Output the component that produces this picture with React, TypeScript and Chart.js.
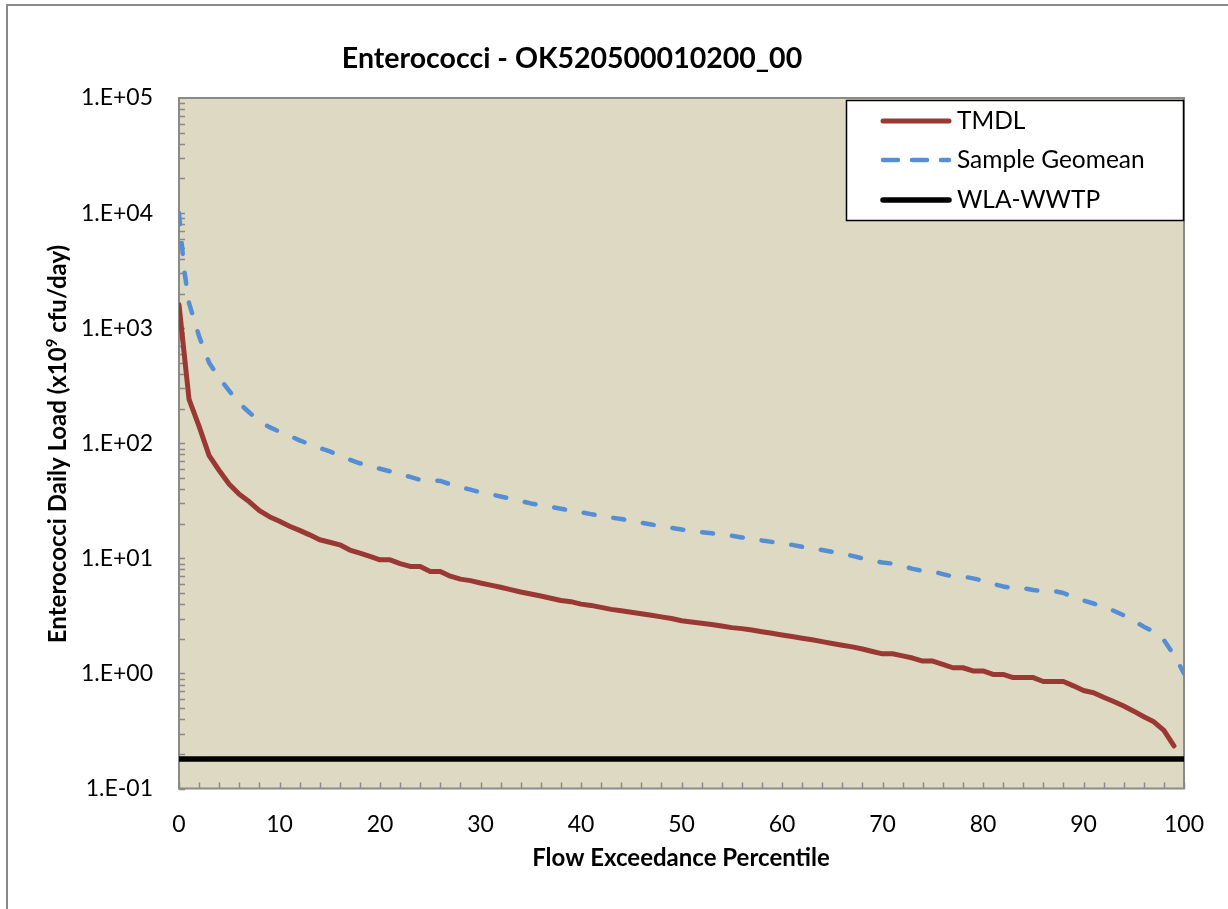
import React, { useEffect, useRef } from 'react';
import { Chart, registerables } from 'chart.js';

Chart.register(...registerables);

const FONT = 'Lato, "Open Sans", sans-serif';

const chartTitle = 'Enterococci - OK520500010200_00';
const xAxisTitle = 'Flow Exceedance Percentile';

// TMDL load duration curve (x10^9 cfu/day) by flow exceedance percentile
const tmdlPercentiles = [
  0, 1, 2, 3, 4, 5, 6, 7, 8, 9, 10, 11, 12, 13, 14, 15, 16, 17, 18, 19,
  20, 21, 22, 23, 24, 25, 26, 27, 28, 29, 30, 31, 32, 33, 34, 35, 36, 37, 38, 39,
  40, 41, 42, 43, 44, 45, 46, 47, 48, 49, 50, 51, 52, 53, 54, 55, 56, 57, 58, 59,
  60, 61, 62, 63, 64, 65, 66, 67, 68, 69, 70, 71, 72, 73, 74, 75, 76, 77, 78, 79,
  80, 81, 82, 83, 84, 85, 86, 87, 88, 89, 90, 91, 92, 93, 94, 95, 96, 97, 98, 99,
];
const tmdlLoads = [
  1600, 240, 140, 78, 58, 44, 36, 31, 26, 23, 21, 19, 17.5, 16, 14.5, 13.8, 13.1, 11.8, 11.1, 10.4,
  9.7, 9.7, 9.0, 8.5, 8.5, 7.7, 7.7, 7.0, 6.6, 6.4, 6.1, 5.85, 5.6, 5.35, 5.1, 4.9, 4.7, 4.5, 4.3, 4.2,
  4.0, 3.9, 3.75, 3.6, 3.5, 3.4, 3.3, 3.2, 3.1, 3.0, 2.87, 2.8, 2.73, 2.66, 2.58, 2.5, 2.45, 2.38, 2.3, 2.23,
  2.16, 2.09, 2.02, 1.96, 1.89, 1.82, 1.76, 1.7, 1.63, 1.55, 1.48, 1.48, 1.42, 1.36, 1.28, 1.28, 1.2, 1.12, 1.12, 1.05,
  1.05, 0.98, 0.98, 0.92, 0.92, 0.92, 0.85, 0.85, 0.85, 0.78, 0.71, 0.68, 0.62, 0.57, 0.52, 0.47, 0.42, 0.38, 0.32, 0.235,
];

// Sample geomean load curve
const geomeanPercentiles = [
  0, 0.5, 1, 2, 3, 4, 5, 6, 7, 8, 9, 10, 11, 12, 13, 14, 15, 16, 17, 18, 19,
  20, 21, 22, 23, 24, 25, 26, 27, 28, 29, 30, 31, 32, 33, 34, 35, 36, 37, 38, 39,
  40, 41, 42, 43, 44, 45, 46, 47, 48, 49, 50, 51, 52, 53, 54, 55, 56, 57, 58, 59,
  60, 61, 62, 63, 64, 65, 66, 67, 68, 69, 70, 71, 72, 73, 74, 75, 76, 77, 78, 79,
  80, 81, 82, 83, 84, 85, 86, 87, 88, 89, 90, 91, 92, 93, 94, 95, 96, 97, 98, 99, 100,
];
const geomeanLoads = [
  10000, 3300, 1650, 850, 500, 370, 285, 222, 185, 155, 138, 126, 116, 106, 98, 91, 85, 78, 72, 67, 63,
  60, 57, 54, 51, 48, 47.5, 47, 44, 41.5, 39.5, 37.5, 36, 34.5, 33, 31.5, 30, 29, 28, 27, 26,
  25.2, 24.2, 23.3, 22.6, 22, 21.2, 20.4, 19.7, 19, 18.4, 17.8, 17.3, 16.9, 16.5, 16.1, 15.7, 15.2, 14.8, 14.3, 13.9,
  13.5, 13.1, 12.6, 12.2, 11.8, 11.4, 11, 10.5, 10, 9.5, 9.2, 9, 8.6, 8.1, 7.8, 7.7, 7.3, 6.95, 6.95, 6.7,
  6.4, 6.0, 5.7, 5.5, 5.5, 5.3, 5.2, 5.2, 5.0, 4.6, 4.3, 4.05, 3.8, 3.5, 3.2, 2.85, 2.55, 2.3, 1.95, 1.45, 1.0,
];

// Wasteload allocation for the WWTP (constant)
const wlaPercentiles = [0, 100];
const wlaLoads = [0.18, 0.18];

const yTickValues = [0.1, 1, 10, 100, 1000, 10000, 100000];
const xTickValues = [0, 10, 20, 30, 40, 50, 60, 70, 80, 90, 100];
const xMinorStep = 2;

const seriesNames = ['TMDL', 'Sample Geomean', 'WLA-WWTP'];

const toPoints = (xs: number[], ys: number[]) => xs.map((x, i) => ({ x, y: ys[i] }));

const formatExp = (v: number) => {
  const e = Math.round(Math.log10(v));
  return '1.E' + (e < 0 ? '-' : '+') + String(Math.abs(e)).padStart(2, '0');
};

const decorPlugin = {
  id: 'decor',
  beforeDraw(chart: any) {
    const { ctx, chartArea: a } = chart;
    ctx.save();
    ctx.fillStyle = '#ffffff';
    ctx.fillRect(0, 0, chart.width, chart.height);
    // outer chart frame
    ctx.strokeStyle = '#8a8a8a';
    ctx.lineWidth = 2;
    ctx.beginPath();
    ctx.moveTo(7, chart.height + 2);
    ctx.lineTo(7, 5);
    ctx.lineTo(chart.width + 2, 5);
    ctx.stroke();
    // plot area fill
    ctx.fillStyle = '#DDD9C3';
    ctx.fillRect(a.left, a.top, a.right - a.left, a.bottom - a.top);
    ctx.restore();
  },
  beforeDatasetsDraw(chart: any) {
    const { ctx, chartArea: a, scales } = chart;
    const xs = scales.x;
    const ys = scales.y;
    ctx.save();
    ctx.strokeStyle = '#8a8a8a';
    ctx.lineWidth = 1.5;
    ctx.beginPath();
    // log minor ticks on the value axis, pointing inward
    for (let e = -1; e <= 4; e++) {
      for (let m = 1; m <= 9; m++) {
        const py = Math.round(ys.getPixelForValue(m * Math.pow(10, e))) + 0.5;
        ctx.moveTo(a.left, py);
        ctx.lineTo(a.left + 6, py);
      }
    }
    // minor ticks on the percentile axis
    for (let v = xs.min; v <= xs.max; v += xMinorStep) {
      const px = Math.round(xs.getPixelForValue(v)) + 0.5;
      ctx.moveTo(px, a.bottom);
      ctx.lineTo(px, a.bottom - 6);
    }
    ctx.stroke();
    ctx.lineWidth = 2;
    ctx.strokeRect(a.left, a.top, a.right - a.left, a.bottom - a.top);
    ctx.restore();
  },
  afterDraw(chart: any) {
    const { ctx } = chart;
    ctx.save();
    ctx.fillStyle = '#000';
    // chart title
    ctx.font = `bold 28.5px ${FONT}`;
    ctx.textAlign = 'center';
    ctx.textBaseline = 'alphabetic';
    ctx.fillText(chartTitle, 572, 68);
    // x axis title
    ctx.font = `bold 24px ${FONT}`;
    ctx.fillText(xAxisTitle, 681, 866);
    // y axis title with superscript
    ctx.translate(66, 444);
    ctx.rotate(-Math.PI / 2);
    const parts: [string, boolean][] = [
      ['Enterococci Daily Load (x10', false],
      ['9', true],
      [' cfu/day)', false],
    ];
    const normal = `bold 24px ${FONT}`;
    const sup = `bold 15px ${FONT}`;
    let total = 0;
    for (const [t, s] of parts) {
      ctx.font = s ? sup : normal;
      total += ctx.measureText(t).width;
    }
    let cx = -total / 2;
    ctx.textAlign = 'left';
    for (const [t, s] of parts) {
      ctx.font = s ? sup : normal;
      ctx.fillText(t, cx, s ? -9 : 0);
      cx += ctx.measureText(t).width;
    }
    ctx.restore();

    // legend box
    ctx.save();
    const bx = 846.5, by = 100.5, bw = 337, bh = 120;
    ctx.fillStyle = '#ffffff';
    ctx.fillRect(bx, by, bw, bh);
    ctx.strokeStyle = '#000';
    ctx.lineWidth = 1.5;
    ctx.strokeRect(bx, by, bw, bh);
    const rows = [121, 160, 200];
    chart.data.datasets.forEach((ds: any, i: number) => {
      const y = rows[i];
      ctx.strokeStyle = ds.borderColor;
      ctx.lineWidth = ds.borderWidth;
      ctx.lineCap = 'round';
      ctx.setLineDash(ds.borderDash ? [15, 14] : []);
      ctx.beginPath();
      ctx.moveTo(883, y);
      ctx.lineTo(949, y);
      ctx.stroke();
      ctx.setLineDash([]);
      ctx.fillStyle = '#000';
      ctx.font = `24.5px ${FONT}`;
      ctx.textAlign = 'left';
      ctx.textBaseline = 'middle';
      ctx.fillText(ds.label, 957, y);
    });
    ctx.restore();
  },
};

export default function App() {
  const canvasRef = useRef<HTMLCanvasElement | null>(null);

  useEffect(() => {
    const canvas = canvasRef.current;
    if (!canvas) return;
    const chart = new Chart(canvas, {
      type: 'line',
      data: {
        datasets: [
          {
            label: seriesNames[0],
            data: toPoints(tmdlPercentiles, tmdlLoads),
            borderColor: '#9A3934',
            borderWidth: 5,
            pointRadius: 0,
            tension: 0,
            borderCapStyle: 'round',
            borderJoinStyle: 'round',
          },
          {
            label: seriesNames[1],
            data: toPoints(geomeanPercentiles, geomeanLoads),
            borderColor: '#558ED5',
            borderWidth: 4.5,
            borderDash: [11, 19],
            pointRadius: 0,
            tension: 0,
            borderCapStyle: 'round',
            borderJoinStyle: 'round',
          },
          {
            label: seriesNames[2],
            data: toPoints(wlaPercentiles, wlaLoads),
            borderColor: '#000000',
            borderWidth: 5.5,
            pointRadius: 0,
            tension: 0,
          },
        ],
      },
      options: {
        responsive: false,
        animation: false,
        devicePixelRatio: 1,
        layout: { padding: { left: 0, top: 98, right: 44, bottom: 0 } },
        plugins: {
          legend: { display: false },
          title: { display: false },
          tooltip: { enabled: false },
        },
        scales: {
          x: {
            type: 'linear',
            min: 0,
            max: 100,
            afterBuildTicks: (scale: any) => {
              scale.ticks = xTickValues.map((v) => ({ value: v }));
            },
            afterFit: (scale: any) => {
              scale.height = 120.5;
            },
            grid: { display: false, drawTicks: false },
            border: { display: false },
            ticks: {
              autoSkip: false,
              maxRotation: 0,
              padding: 22,
              color: '#000',
              font: { family: FONT, size: 23 },
            },
          },
          y: {
            type: 'logarithmic',
            min: 0.1,
            max: 100000,
            afterBuildTicks: (scale: any) => {
              scale.ticks = yTickValues.map((v) => ({ value: v }));
            },
            afterFit: (scale: any) => {
              scale.width = 179;
            },
            grid: { display: false, drawTicks: false },
            border: { display: false },
            ticks: {
              autoSkip: false,
              padding: 26,
              color: '#000',
              font: { family: FONT, size: 23 },
              callback: (v: any) => formatExp(Number(v)),
            },
          },
        },
      },
      plugins: [decorPlugin],
    });
    return () => chart.destroy();
  }, []);

  return (
    <div style={{ position: 'fixed', left: 0, top: 0, width: 1228, height: 909 }}>
      <canvas ref={canvasRef} width={1228} height={909} style={{ display: 'block' }} />
    </div>
  );
}
